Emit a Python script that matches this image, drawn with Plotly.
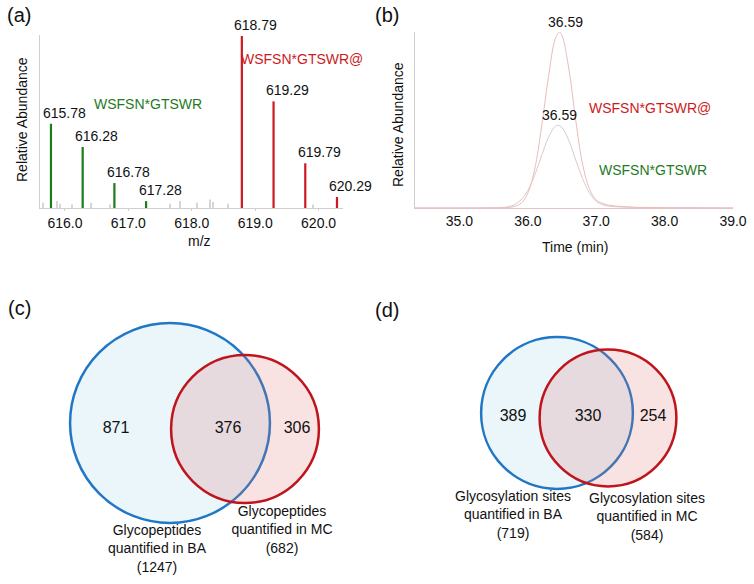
import plotly.graph_objects as go

FONT = "Liberation Sans, Arial, sans-serif"
W, H = 754, 584
FIG_W = 768  # the page photo comes out slightly narrower than the figure, so widen it

# (a) mass spectrum: isotope peaks (m/z, relative abundance %)
mz_light = [615.78, 616.28, 616.78, 617.28]
ab_light = [49, 35.5, 14.5, 4]
mz_heavy = [618.79, 619.29, 619.79, 620.29]
ab_heavy = [100, 62, 26, 6.4]
mz_noise = [615.66, 615.87, 615.92, 616.11, 616.42, 616.71, 617.66, 617.81, 618.08, 618.29, 618.33, 618.57, 619.91]
ab_noise = [3, 4, 2.5, 2, 3, 2, 2.5, 4, 3, 5, 3.5, 2.5, 2]
pep_light = "WSFSN*GTSWR"
pep_heavy = "WSFSN*GTSWR@"

# (b) extracted ion chromatograms (time min, relative abundance %)
t_heavy = [34.35, 35.0, 35.5, 35.7, 35.8, 35.9, 36.0, 36.1, 36.2, 36.3, 36.4, 36.46, 36.5, 36.6, 36.7, 36.8, 36.9, 37.0, 37.1, 37.2, 37.4, 37.6, 38.0, 38.5, 39.0]
i_heavy = [0, 0, 0.1, 0.3, 0.8, 2.7, 8.5, 22, 46, 74, 96, 100, 98, 79, 50, 25, 11, 4.5, 2.5, 1.5, 0.8, 0.4, 0.2, 0.1, 0]
t_light = [34.35, 35.0, 35.5, 35.7, 35.8, 35.9, 36.0, 36.1, 36.2, 36.3, 36.4, 36.44, 36.5, 36.6, 36.7, 36.8, 36.9, 37.0, 37.1, 37.2, 37.4, 37.6, 38.0, 38.5, 39.0]
i_light = [0, 0, 0.1, 0.6, 1.8, 4.6, 10, 18.6, 29.6, 40, 46.4, 47, 45.7, 38.3, 27.3, 16.7, 8.7, 3.8, 1.8, 1.0, 0.5, 0.3, 0.1, 0.05, 0]
rt_label = "36.59"

# (c) glycopeptides, (d) glycosylation sites
gp_ba, gp_mc, gp_both = 1247, 682, 376
gs_ba, gs_mc, gs_both = 719, 584, 330

GREEN = "#1e7b1e"
RED = "#cc1a22"
BLUE_LINE = "#1f77c6"
RED_LINE = "#c0141c"
AXIS = "#cfcfcf"


def note(px, py, text, size=14, color="#111", angle=0):
    # text centred on a pixel position of the 754x584 picture
    return dict(x=px / W, y=1 - py / H, xref="paper", yref="paper", text=text, showarrow=False,
                xanchor="center", yanchor="middle", textangle=angle, font=dict(size=size, color=color))


fig = go.Figure()

# ---------------- (a)
fig.add_bar(x=mz_noise, y=ab_noise, width=0.02, marker=dict(color="#d6d6d6", line_width=0), xaxis="x", yaxis="y")
fig.add_bar(x=mz_light, y=ab_light, width=0.035, marker=dict(color=GREEN, line_width=0), xaxis="x", yaxis="y")
fig.add_bar(x=mz_heavy, y=ab_heavy, width=0.035, marker=dict(color=RED, line_width=0), xaxis="x", yaxis="y")

ann = []
for m, a in zip(mz_light + mz_heavy, ab_light + ab_heavy):
    ann.append(dict(x=m, y=a, xref="x", yref="y", text=f"{m:.2f}", showarrow=False,
                    xanchor="center", yanchor="bottom", xshift=14, yshift=1, font=dict(size=14, color="#111")))
ann.append(note(302, 59, pep_heavy, color=RED))
ann.append(note(148, 104, pep_light, color=GREEN))

# ---------------- (b)
fig.add_scatter(x=t_light, y=i_light, mode="lines", line=dict(color="#d8cccc", width=1, shape="spline"),
                xaxis="x2", yaxis="y2")
fig.add_scatter(x=t_heavy, y=i_heavy, mode="lines", line=dict(color="#ebbcbc", width=1, shape="spline"),
                xaxis="x2", yaxis="y2")
kh = i_heavy.index(max(i_heavy))
kl = i_light.index(max(i_light))
ann.append(dict(x=t_heavy[kh], y=i_heavy[kh], xref="x2", yref="y2", text=rt_label, showarrow=False,
                xanchor="center", yanchor="bottom", xshift=6, font=dict(size=14, color="#111")))
ann.append(dict(x=t_light[kl], y=i_light[kl], xref="x2", yref="y2", text=rt_label, showarrow=False,
                xanchor="center", yanchor="bottom", xshift=2, font=dict(size=14, color="#111")))
ann.append(note(650, 108, pep_heavy, color=RED))
ann.append(note(653, 170, pep_light, color=GREEN))

# axis titles
ann.append(note(22, 120, "Relative Abundance", angle=-90))
ann.append(note(398, 125, "Relative Abundance", angle=-90))
ann.append(note(199, 241, "m/z"))
ann.append(note(575, 247, "Time (min)"))

# panel letters
for txt, px, py in [("(a)", 19, 15), ("(b)", 387, 15), ("(c)", 19, 308), ("(d)", 387, 310)]:
    ann.append(note(px, py, txt, size=20))

# ---------------- (c), (d) Venn diagrams on a pixel overlay axis
K = 2.83  # px per sqrt(count) -> area proportional circles
shapes = []
venns = [
    (gp_ba, gp_mc, gp_both, (170, 423), (245, 429), "Glycopeptides",
     (116, 228, 297, 429), (157, 550), (282, 531)),
    (gs_ba, gs_mc, gs_both, (557, 413), (608, 418), "Glycosylation sites",
     (513, 588, 653, 417), (513, 516), (647, 518)),
]
num_x, num_y, num_t = [], [], []
lab_x, lab_y, lab_t = [], [], []
for ba, mc, both, cb, cr, what, npos, lpos_ba, lpos_mc in venns:
    rb = K * ba ** 0.5
    rr = K * mc ** 0.5
    shapes.append(dict(type="circle", xref="x3", yref="y3", x0=cb[0] - rb, x1=cb[0] + rb,
                       y0=cb[1] - rb, y1=cb[1] + rb, fillcolor="#eaf6fa",
                       line=dict(color=BLUE_LINE, width=2.5), layer="below"))
    shapes.append(dict(type="circle", xref="x3", yref="y3", x0=cr[0] - rr, x1=cr[0] + rr,
                       y0=cr[1] - rr, y1=cr[1] + rr, fillcolor="rgba(222,110,110,0.2)",
                       line=dict(color=RED_LINE, width=2.5), layer="below"))
    num_x += [npos[0], npos[1], npos[2]]
    num_y += [npos[3]] * 3
    num_t += [str(ba - both), str(both), str(mc - both)]
    lab_x += [lpos_ba[0], lpos_mc[0]]
    lab_y += [lpos_ba[1], lpos_mc[1]]
    lab_t += [f"{what}<br>quantified in BA<br>({ba})", f"{what}<br>quantified in MC<br>({mc})"]

fig.add_scatter(x=num_x, y=num_y, text=num_t, mode="text", textfont=dict(size=16, color="#111", family=FONT),
                xaxis="x3", yaxis="y3", hoverinfo="skip")
fig.add_scatter(x=lab_x, y=lab_y, text=lab_t, mode="text", textfont=dict(size=14, color="#111", family=FONT),
                xaxis="x3", yaxis="y3", hoverinfo="skip")

ytop = 1 - 35 / H
ybot = 1 - 208 / H
fig.update_layout(
    width=FIG_W, height=H, autosize=False, margin=dict(l=0, r=0, t=0, b=0),
    paper_bgcolor="white", plot_bgcolor="rgba(0,0,0,0)",
    showlegend=False, barmode="overlay",
    font=dict(family=FONT, size=14, color="#111"),
    annotations=ann, shapes=shapes,
    xaxis=dict(domain=[40 / W, 343 / W], range=[615.607, 620.385], anchor="y",
               tickmode="linear", tick0=616, dtick=1, tickformat=".1f",
               showline=True, linecolor=AXIS, linewidth=1, ticks="outside", ticklen=2, tickcolor=AXIS,
               showgrid=False, zeroline=False, tickfont=dict(size=14, color="#111")),
    yaxis=dict(domain=[ybot, ytop], range=[0, 100.6], anchor="x", showline=True, linecolor=AXIS,
               showticklabels=False, ticks="", showgrid=False, zeroline=False),
    xaxis2=dict(domain=[415 / W, 733 / W], range=[34.35, 39.0], anchor="y2",
                tickmode="linear", tick0=35, dtick=1, tickformat=".1f",
                showline=True, linecolor="#e2c4c4", linewidth=1, ticks="",
                showgrid=False, zeroline=False, tickfont=dict(size=14, color="#111")),
    yaxis2=dict(domain=[ybot, 1 - 32 / H], range=[0, 100], anchor="x2", showline=True, linecolor=AXIS,
                showticklabels=False, ticks="", showgrid=False, zeroline=False),
    xaxis3=dict(domain=[0, 1], range=[0, W], anchor="y3", visible=False, fixedrange=True),
    yaxis3=dict(domain=[0, 1], range=[H, 0], anchor="x3", visible=False, fixedrange=True),
)

# page body has a default 8px margin; drop it so the figure sits at the window corner
fig.write_html("out.html", config={"displayModeBar": False},
               post_script="document.body.style.margin='0';document.body.style.overflow='hidden';")
